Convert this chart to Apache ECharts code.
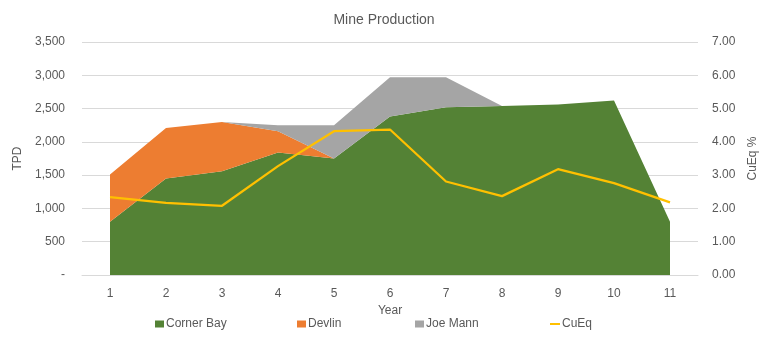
<!DOCTYPE html>
<html><head><meta charset="utf-8">
<script src="https://cdn.jsdelivr.net/npm/echarts@6/dist/echarts.min.js"></script>
<style>html,body{margin:0;padding:0;background:#fff}#c{width:768px;height:360px}</style>
</head><body><div id="c"></div>
<script>
const years = ['1','2','3','4','5','6','7','8','9','10','11'];
const cornerBay = [800, 1450, 1560, 1840, 1750, 2380, 2520, 2540, 2560, 2620, 800];
const devlin = [710, 760, 740, 320, 0, 0, 0, 0, 0, 0, 0];
const joeMann = [0, 0, 0, 90, 500, 590, 450, 0, 0, 0, 0];
const cuEq = [2.34, 2.17, 2.08, 3.27, 4.32, 4.37, 2.81, 2.37, 3.18, 2.76, 2.18];
const leftTicks = ['-', '500', '1,000', '1,500', '2,000', '2,500', '3,000', '3,500'];

const FONT = 'Liberation Sans';
const TXT = '#595959';
const chart = echarts.init(document.getElementById('c'));
function leg(name, left, icon) {
  return { data: [{name, icon}], left, top: 313, itemWidth: icon === 'rect' ? 9 : 10, itemHeight: icon === 'rect' ? 7 : 2, itemGap: 2,
    textStyle: { color: TXT, fontFamily: FONT, fontSize: 12, padding: [0,0,0,-3] }, selectedMode: false };
}
chart.setOption({
  animation: false,
  title: { text: 'Mine Production', left: 'center', top: 8, textStyle: { color: TXT, fontFamily: FONT, fontSize: 14, fontWeight: 'normal' } },
  legend: [leg('Corner Bay', 150, 'rect'), leg('Devlin', 292, 'rect'), leg('Joe Mann', 410, 'rect'), leg('CuEq', 545, 'path://M0,0H10V2H0Z')],
  grid: { left: 82, right: 70, top: 42, bottom: 85 },
  xAxis: {
    type: 'category', data: years, boundaryGap: true,
    name: 'Year', nameLocation: 'middle', nameGap: 26,
    nameTextStyle: { color: TXT, fontFamily: FONT, fontSize: 12 },
    axisLine: { lineStyle: { color: '#d9d9d9' } }, axisTick: { show: false },
    axisLabel: { color: TXT, fontFamily: FONT, fontSize: 12, margin: 13 }
  },
  yAxis: [{
    type: 'value', min: 0, max: 3500, interval: 500,
    name: 'TPD', nameLocation: 'middle', nameGap: 52, nameRotate: 90,
    nameTextStyle: { color: TXT, fontFamily: FONT, fontSize: 12 },
    axisLine: { show: false }, axisTick: { show: false },
    splitLine: { lineStyle: { color: '#d9d9d9' } },
    axisLabel: { color: TXT, fontFamily: FONT, fontSize: 12, margin: 17, formatter: (v) => leftTicks[Math.round(v / 500)] }
  }, {
    type: 'value', min: 0, max: 7, interval: 1,
    name: 'CuEq %', nameLocation: 'middle', nameGap: 43, nameRotate: 90,
    nameTextStyle: { color: TXT, fontFamily: FONT, fontSize: 12 },
    axisLine: { show: false }, axisTick: { show: false }, splitLine: { show: false },
    axisLabel: { color: TXT, fontFamily: FONT, fontSize: 12, margin: 14, formatter: (v) => v.toFixed(2) }
  }],
  series: [
    { name: 'Corner Bay', type: 'line', stack: 't', data: cornerBay, symbol: 'none', lineStyle: { width: 0 }, areaStyle: { color: '#548235', opacity: 1 }, itemStyle: { color: '#548235' } },
    { name: 'Devlin', type: 'line', stack: 't', data: devlin, symbol: 'none', lineStyle: { width: 0 }, areaStyle: { color: '#ED7D31', opacity: 1 }, itemStyle: { color: '#ED7D31' } },
    { name: 'Joe Mann', type: 'line', stack: 't', data: joeMann, symbol: 'none', lineStyle: { width: 0 }, areaStyle: { color: '#A5A5A5', opacity: 1 }, itemStyle: { color: '#A5A5A5' } },
    { name: 'CuEq', type: 'line', yAxisIndex: 1, data: cuEq, symbol: 'none', lineStyle: { width: 2.25, color: '#FFC000' }, itemStyle: { color: '#FFC000' }, z: 5 }
  ]
});
</script></body></html>
